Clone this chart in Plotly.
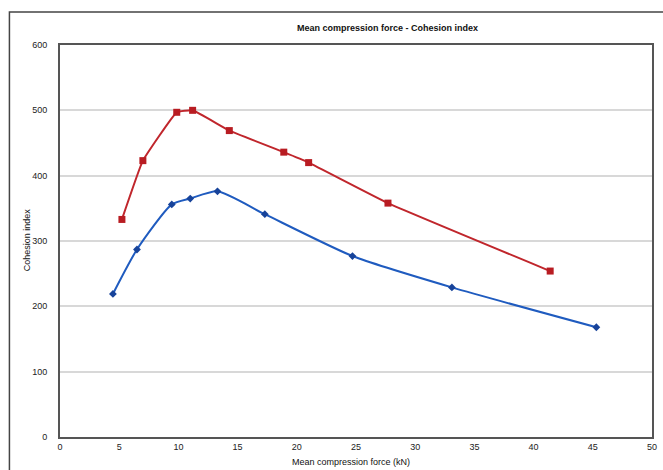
import plotly.graph_objects as go

red_x = [5.23, 7.0, 9.86, 11.2, 14.3, 18.9, 21.0, 27.7, 41.4]
red_y = [333, 423, 497, 500, 469, 436, 420, 358, 254]
blue_x = [4.47, 6.5, 9.44, 11.0, 13.3, 17.3, 24.7, 33.1, 45.3]
blue_y = [219, 287, 356, 365, 376, 341, 277, 229, 168]

x_ticks = [0, 5, 10, 15, 20, 25, 30, 35, 40, 45, 50]
y_ticks = [0, 100, 200, 300, 400, 500, 600]

W, H = 663, 470
L, T, R, B = 60, 45, 657, 437
PW, PH = R - L, B - T

def px(sx):
    return (sx - L) / PW

def py(sy):
    return (B - sy) / PH

fig = go.Figure()
fig.add_trace(go.Scatter(x=red_x, y=red_y, mode="lines+markers",
                         line=dict(color="#c0262c", width=2, shape="spline", smoothing=0.3),
                         marker=dict(symbol="square", size=7, color="#b81c22")))
fig.add_trace(go.Scatter(x=blue_x, y=blue_y, mode="lines+markers",
                         line=dict(color="#1f5bbf", width=2, shape="spline", smoothing=0.6),
                         marker=dict(symbol="diamond", size=6, color="#17439a")))

font = "Liberation Sans, Arial, sans-serif"
fig.update_layout(
    width=W, height=H,
    margin=dict(l=L, r=W - R, t=T, b=H - B),
    paper_bgcolor="white", plot_bgcolor="white",
    showlegend=False,
    font=dict(family=font, size=9, color="#222"),
    xaxis=dict(range=[0, 50], tickvals=x_ticks, showgrid=False, zeroline=False,
               showline=True, linecolor="#555", linewidth=2, mirror=True,
               ticks="", tickfont=dict(size=9)),
    yaxis=dict(range=[0, 600], tickvals=y_ticks, showgrid=True, gridcolor="#d8d8d8",
               gridwidth=1.5, zeroline=False, showline=True, linecolor="#555",
               linewidth=2, mirror=True, ticks="", tickfont=dict(size=9),
               ticklabelstandoff=9),
    annotations=[
        dict(text="<b>Mean compression force - Cohesion index</b>", xref="paper", yref="paper",
             x=px(390), y=py(28), showarrow=False,
             font=dict(size=9, color="#111"), xanchor="center", yanchor="middle"),
        dict(text="Mean compression force (kN)", xref="paper", yref="paper",
             x=px(353), y=py(462), showarrow=False,
             font=dict(size=9, color="#111"), xanchor="center", yanchor="middle"),
        dict(text="Cohesion index", xref="paper", yref="paper",
             x=px(27), y=py(240), showarrow=False, textangle=-90,
             font=dict(size=9, color="#111"), xanchor="center", yanchor="middle"),
    ],
    shapes=[dict(type="rect", xref="paper", yref="paper",
                 x0=px(9), x1=1.2, y0=-0.3, y1=py(12),
                 line=dict(color="#444", width=1.5))],
)
fig.write_html("out.html", config={"displayModeBar": False},
               post_script="document.body.style.margin='0';document.body.style.overflow='hidden';")
